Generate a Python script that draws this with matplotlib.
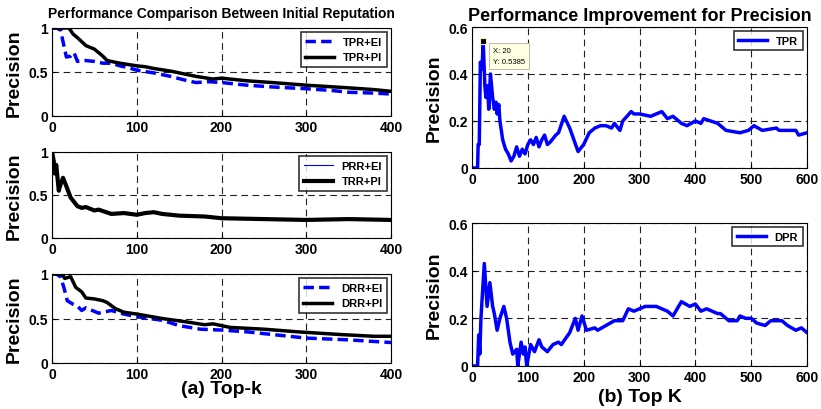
import numpy as np
import matplotlib
matplotlib.use("Agg")
import matplotlib.pyplot as plt

plt.rcParams["font.family"] = ["Liberation Sans", "DejaVu Sans"]
plt.rcParams["font.weight"] = "bold"

# ---- data ----
tpr_ei_k = [0, 5, 10, 14, 17, 22, 26, 30, 40, 50, 60, 70, 80, 90, 100, 120, 140, 160, 170, 185, 200, 230, 260, 300, 330, 350, 380, 400]
tpr_ei_p = [1, 1, 0.98, 0.8, 0.67, 0.68, 0.72, 0.62, 0.63, 0.62, 0.6, 0.6, 0.57, 0.55, 0.52, 0.49, 0.45, 0.4, 0.38, 0.39, 0.38, 0.35, 0.33, 0.31, 0.29, 0.27, 0.26, 0.25]
tpr_pi_k = [0, 10, 20, 25, 30, 40, 50, 60, 65, 80, 100, 110, 120, 140, 160, 170, 190, 200, 230, 260, 300, 350, 380, 400]
tpr_pi_p = [1, 1, 1, 0.93, 0.89, 0.8, 0.76, 0.68, 0.63, 0.6, 0.57, 0.56, 0.54, 0.51, 0.47, 0.45, 0.42, 0.43, 0.4, 0.38, 0.35, 0.32, 0.3, 0.28]

trr_k = [0, 2, 3, 5, 8, 10, 13, 17, 22, 26, 30, 35, 40, 50, 55, 70, 85, 100, 110, 120, 130, 150, 180, 200, 250, 300, 350, 400]
trr_p = [1, 0.9, 0.75, 0.85, 0.55, 0.62, 0.7, 0.6, 0.47, 0.42, 0.37, 0.35, 0.36, 0.32, 0.33, 0.28, 0.29, 0.27, 0.29, 0.3, 0.28, 0.26, 0.25, 0.23, 0.22, 0.21, 0.22, 0.21]
prr_k = trr_k
prr_p = trr_p

drr_ei_k = [0, 5, 10, 14, 18, 25, 30, 35, 40, 50, 55, 70, 85, 100, 130, 150, 175, 200, 230, 260, 300, 350, 400]
drr_ei_p = [1, 1, 0.97, 0.85, 0.7, 0.66, 0.64, 0.59, 0.62, 0.58, 0.56, 0.59, 0.55, 0.52, 0.48, 0.42, 0.38, 0.37, 0.35, 0.32, 0.28, 0.26, 0.23]
drr_pi_k = [0, 12, 15, 22, 28, 35, 40, 50, 60, 65, 75, 85, 100, 130, 160, 180, 190, 210, 250, 290, 340, 380, 400]
drr_pi_p = [1, 1, 0.95, 0.97, 0.85, 0.8, 0.73, 0.72, 0.7, 0.68, 0.61, 0.57, 0.55, 0.5, 0.46, 0.43, 0.44, 0.4, 0.38, 0.35, 0.32, 0.3, 0.3]

tpr_k = [0, 10, 11, 13, 15, 18, 20, 23, 25, 28, 30, 33, 37, 40, 43, 45, 48, 50, 55, 60, 65, 70, 75, 80, 85, 90, 95, 100, 105, 110, 115, 120, 125, 130, 135, 140, 150, 155, 165, 175, 190, 200, 210, 220, 230, 240, 250, 255, 265, 270, 285, 290, 300, 320, 340, 350, 360, 375, 385, 400, 410, 415, 440, 455, 480, 495, 505, 520, 545, 550, 560, 580, 585, 600]
tpr_p = [0, 0, 0.1, 0.1, 0.45, 0.42, 0.5385, 0.35, 0.3, 0.35, 0.25, 0.4, 0.3, 0.25, 0.28, 0.23, 0.27, 0.2, 0.12, 0.08, 0.06, 0.03, 0.05, 0.09, 0.05, 0.08, 0.06, 0.1, 0.12, 0.1, 0.13, 0.09, 0.12, 0.14, 0.1, 0.11, 0.14, 0.15, 0.22, 0.17, 0.07, 0.1, 0.15, 0.17, 0.18, 0.18, 0.17, 0.19, 0.16, 0.2, 0.24, 0.23, 0.23, 0.22, 0.24, 0.21, 0.22, 0.19, 0.18, 0.2, 0.19, 0.21, 0.19, 0.16, 0.15, 0.16, 0.18, 0.16, 0.17, 0.16, 0.16, 0.16, 0.14, 0.15]

dpr_k = [0, 10, 12, 14, 16, 22, 27, 32, 37, 40, 45, 50, 57, 62, 68, 73, 80, 82, 88, 92, 95, 98, 105, 112, 120, 125, 135, 145, 155, 160, 175, 185, 190, 197, 205, 220, 225, 240, 255, 270, 280, 290, 310, 330, 350, 360, 370, 375, 390, 400, 410, 420, 440, 445, 460, 475, 480, 490, 500, 510, 525, 535, 555, 565, 580, 590, 600]
dpr_p = [0, 0, 0.13, 0.05, 0.2, 0.43, 0.25, 0.35, 0.25, 0.22, 0.15, 0.2, 0.25, 0.2, 0.1, 0.05, 0.07, 0.0, 0.1, 0.05, 0.08, 0.0, 0.09, 0.06, 0.11, 0.08, 0.06, 0.09, 0.1, 0.09, 0.14, 0.2, 0.15, 0.21, 0.15, 0.16, 0.15, 0.17, 0.19, 0.19, 0.24, 0.23, 0.25, 0.25, 0.23, 0.21, 0.25, 0.27, 0.25, 0.26, 0.23, 0.24, 0.22, 0.22, 0.19, 0.19, 0.21, 0.2, 0.2, 0.18, 0.17, 0.19, 0.19, 0.17, 0.15, 0.16, 0.14]

tip_k, tip_p = 20, 0.5385

W, H = 821, 410
fig = plt.figure(figsize=(W / 100, H / 100), dpi=100)


def ax_px(left, top, right, bottom):
    return fig.add_axes([left / W, 1 - bottom / H, (right - left) / W, (bottom - top) / H])


def style(ax, xmax, ymax, yticks, yfmt):
    ax.set_xlim(0, xmax)
    ax.set_ylim(0, ymax)
    ax.set_yticks(yticks)
    ax.set_yticklabels([yfmt(v) for v in yticks])
    ax.tick_params(direction="in", labelsize=10, length=3, pad=3)
    ax.grid(True, color="#222222", linestyle=(0, (6, 4)), linewidth=0.8)
    for s in ax.spines.values():
        s.set_linewidth(0.8)
    ax.set_ylabel("Precision", fontsize=14, fontweight="bold", labelpad=4)


def leg(ax):
    lg = ax.legend(loc="upper right", frameon=True, fancybox=False,
                   edgecolor="black", handlelength=2.6, borderaxespad=0.4,
                   prop={"weight": "bold", "size": 8})
    lg.get_frame().set_linewidth(1.2)
    return lg


lfmt = lambda v: "0" if v == 0 else ("1" if v == 1 else f"{v:g}")

a1 = ax_px(52, 29, 391, 117)
a1.plot(tpr_ei_k, tpr_ei_p, color="blue", ls=(0, (3, 1.5)), lw=2.5, label="TPR+EI")
a1.plot(tpr_pi_k, tpr_pi_p, color="black", lw=2.5, label="TPR+PI")
style(a1, 400, 1, [0, 0.5, 1], lfmt)
a1.set_xticks([0, 100, 200, 300, 400])
leg(a1)
a1.set_title("Performance Comparison Between Initial Reputation", fontsize=10, fontweight="bold", pad=8)

a2 = ax_px(52, 153, 391, 239)
a2.plot(prr_k, prr_p, color="blue", lw=0.8, label="PRR+EI")
a2.plot(trr_k, trr_p, color="black", lw=3, label="TRR+PI")
style(a2, 400, 1, [0, 0.5, 1], lfmt)
a2.set_xticks([0, 100, 200, 300, 400])
leg(a2)

a3 = ax_px(52, 275, 391, 364)
a3.plot(drr_ei_k, drr_ei_p, color="blue", ls=(0, (3, 1.5)), lw=2.5, label="DRR+EI")
a3.plot(drr_pi_k, drr_pi_p, color="black", lw=2.5, label="DRR+PI")
style(a3, 400, 1, [0, 0.5, 1], lfmt)
a3.set_xticks([0, 100, 200, 300, 400])
leg(a3)
a3.set_xlabel("(a) Top-k", fontsize=14, fontweight="bold", labelpad=-1)

rfmt = lambda v: "0" if v == 0 else f"{v:.1f}"

b1 = ax_px(472, 28, 807, 169)
b1.plot(tpr_k, tpr_p, color="blue", lw=2.5, label="TPR")
style(b1, 600, 0.6, [0, 0.2, 0.4, 0.6], rfmt)
b1.set_xticks(range(0, 601, 100))
leg(b1)
b1.set_title("Performance Improvement for Precision", fontsize=13, fontweight="bold", pad=5)
b1.plot([tip_k], [tip_p], "s", color="black", ms=4, mec="#f5f0c0", mew=0.8)
b1.annotate(f"X: {tip_k}\nY: {tip_p}", (tip_k, tip_p), xytext=(7, -4), textcoords="offset points",
            ha="left", va="top", fontsize=5.5, fontweight="normal", linespacing=1.8,
            bbox=dict(boxstyle="square,pad=0.5", fc="#ffffe1", ec="#b0b0a0", lw=0.6))

b2 = ax_px(472, 224, 807, 367)
b2.plot(dpr_k, dpr_p, color="blue", lw=2.5, label="DPR")
style(b2, 600, 0.6, [0, 0.2, 0.4, 0.6], rfmt)
b2.set_xticks(range(0, 601, 100))
leg(b2)
b2.set_xlabel("(b) Top K", fontsize=14, fontweight="bold", labelpad=3)

for ax in (a1, a2, a3, b1, b2):
    for lab in ax.get_xticklabels() + ax.get_yticklabels():
        lab.set_fontweight("bold")

fig.savefig("out.png", dpi=100)
